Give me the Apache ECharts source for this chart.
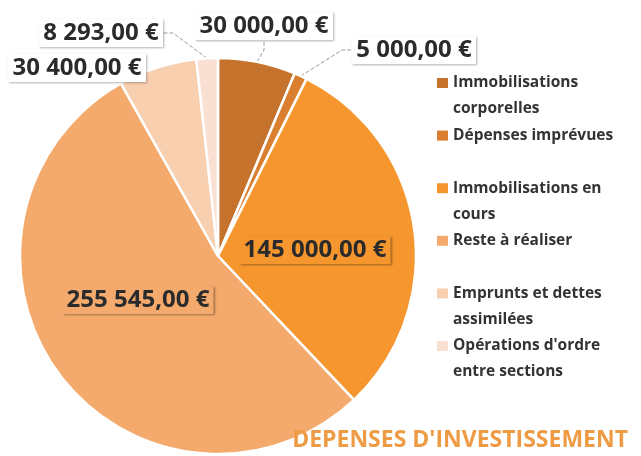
<!DOCTYPE html>
<html>
<head>
<meta charset="utf-8">
<script src="https://cdn.jsdelivr.net/npm/echarts@6/dist/echarts.min.js"></script>
<style>
html,body{margin:0;padding:0;background:#fff;}
#chart{width:641px;height:456px;}
</style>
</head>
<body>
<div id="chart"></div>
<script>
const categories = [
  "Immobilisations corporelles",
  "Dépenses imprévues",
  "Immobilisations en cours",
  "Reste à réaliser",
  "Emprunts et dettes assimilées",
  "Opérations d'ordre entre sections"
];
const values = [30000, 5000, 145000, 255545, 30400, 8293];
const legendLines = [
  ["Immobilisations", "corporelles"],
  ["Dépenses imprévues", ""],
  ["Immobilisations en", "cours"],
  ["Reste à réaliser", ""],
  ["Emprunts et dettes", "assimilées"],
  ["Opérations d'ordre", "entre sections"]
];
const titleText = "DEPENSES D'INVESTISSEMENT";

const colors = ['#C5722C', '#DA7E2F', '#F5962E', '#F4AA6C', '#F8CFAF', '#FAE0D3'];
const labelPos = [[264, 26], [414, 50], [315, 250], [138, 300], [77, 68], [101, 33]];
const insideIdx = [2, 3];
const labelFont = { family: 'Open Sans', size: 24, weight: 'bold' };

function fmt(v) {
  const p = v.toFixed(2).split('.');
  return p[0].replace(/\B(?=(\d{3})+(?!\d))/g, ' ') + ',' + p[1] + ' €';
}
const measureCtx = document.createElement('canvas').getContext('2d');
function textWidth(s) {
  measureCtx.font = labelFont.weight + ' ' + labelFont.size + 'px "' + labelFont.family + '"';
  return Math.ceil(measureCtx.measureText(s).width) + 2;
}

const rich = {
  t: { fontFamily: 'Open Sans', fontSize: 15.5, fontWeight: 'bold', color: '#333', lineHeight: 26, padding: [0, 0, 0, 5] },
  g: { width: 11, height: 10 }
};
colors.forEach((c, i) => { rich['s' + i] = { width: 11, height: 10, backgroundColor: c }; });

const data = categories.map((name, i) => {
  const inside = insideIdx.indexOf(i) >= 0;
  const lbl = { width: textWidth(fmt(values[i])) };
  if (inside) {
    lbl.backgroundColor = colors[i];
    lbl.shadowColor = 'rgba(0,0,0,0.35)';
  }
  return {
    name: name,
    value: values[i],
    itemStyle: { color: colors[i] },
    label: lbl,
    labelLine: { show: !inside && i !== 4 }
  };
});

const chart = echarts.init(document.getElementById('chart'), null, { renderer: 'canvas' });
chart.setOption({
  animation: false,
  backgroundColor: '#fff',
  title: {
    text: titleText,
    right: 8, bottom: -1,
    textStyle: { fontFamily: 'Open Sans', fontSize: 23, fontWeight: 'bold', color: '#EE9B45' }
  },
  legend: {
    orient: 'vertical',
    left: 431, top: 70,
    padding: 0,
    itemWidth: 0, itemHeight: 0, itemGap: 0.6,
    icon: 'rect',
    selectedMode: false,
    data: categories,
    formatter: function (name) {
      const i = categories.indexOf(name);
      const l = legendLines[i];
      return '{s' + i + '|}{t|' + l[0] + '}\n{g|}{t|' + (l[1] || ' ') + '}';
    },
    textStyle: { rich: rich, lineHeight: 26 }
  },
  series: [{
    type: 'pie',
    center: [218, 256],
    radius: 198,
    startAngle: 90,
    clockwise: true,
    data: data,
    itemStyle: { borderColor: '#fff', borderWidth: 2.5 },
    label: {
      show: true,
      formatter: p => fmt(p.value),
      overflow: 'none',
      align: 'center',
      fontFamily: labelFont.family, fontSize: labelFont.size, fontWeight: labelFont.weight, color: '#2b2b2b',
      lineHeight: 27,
      backgroundColor: '#fff',
      padding: [1, 3, 0, 3],
      shadowColor: 'rgba(0,0,0,0.3)', shadowBlur: 2, shadowOffsetX: 1, shadowOffsetY: 1
    },
    labelLine: {
      show: true, length: 10, length2: 10,
      lineStyle: { color: '#9a9a9a', width: 1, type: 'dashed' }
    },
    labelLayout: function (params) {
      const p = labelPos[params.dataIndex];
      return { x: p[0], y: p[1], align: 'center', verticalAlign: 'middle' };
    }
  }]
});
</script>
</body>
</html>
